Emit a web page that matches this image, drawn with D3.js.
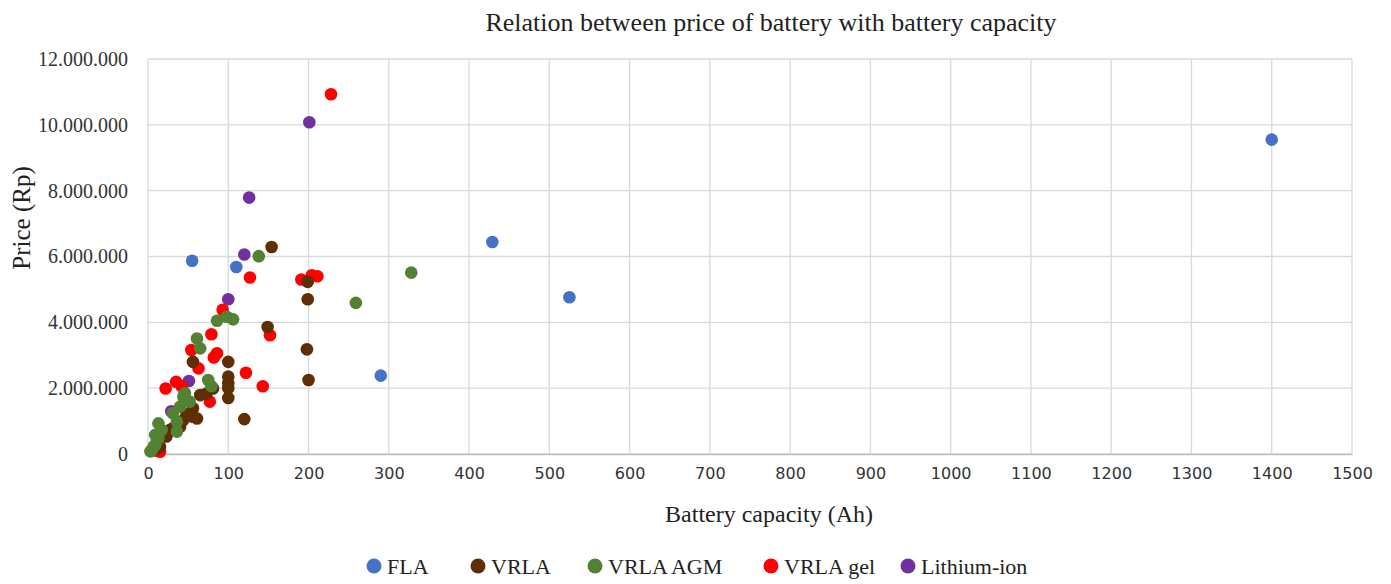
<!DOCTYPE html>
<html><head><meta charset="utf-8">
<script src="https://cdn.jsdelivr.net/npm/d3@7"></script>
<style>body{margin:0;background:#fff}svg{display:block}</style>
</head><body>
<svg id="c" width="1391" height="584"></svg>
<script>
const seriesNames = ["FLA","VRLA","VRLA AGM","VRLA gel","Lithium-ion"];
const seriesColors = ["#4472C4","#5E2E05","#548235","#FF0000","#7030A0"];
const xTicks = d3.range(0,1501,100);
const yTicks = [0,2000000,4000000,6000000,8000000,10000000,12000000];
const yTickLabels = ["0","2.000.000","4.000.000","6.000.000","8.000.000","10.000.000","12.000.000"];

const fla = [[55,5870000],[110,5680000],[290,2380000],[429,6440000],[525,4760000],[1400,9550000]];
const vrla = [[154,6290000],[199,5230000],[199,4700000],[149,3860000],[198,3180000],[100,2800000],[56,2800000],[200,2250000],[100,2350000],[100,2150000],[100,2000000],[100,1700000],[81,1990000],[65,1790000],[73,1840000],[120,1060000],[56,1390000],[56,1130000],[61,1080000],[44,1030000],[40,830000],[27,730000],[21,580000],[15,220000],[31,780000],[23,530000],[10,150000],[48,1200000]];
const vrlaAgm = [[138,6010000],[328,5510000],[259,4590000],[86,4050000],[98,4170000],[106,4090000],[61,3510000],[65,3210000],[75,2250000],[79,2060000],[44,1740000],[52,1590000],[46,1850000],[40,1440000],[31,1240000],[36,980000],[36,680000],[13,930000],[17,730000],[13,480000],[9,270000],[5,120000],[9,580000],[7,220000],[11,420000],[3,80000]];
const vrlaGel = [[228,10930000],[127,5360000],[191,5300000],[204,5430000],[211,5400000],[93,4380000],[152,3610000],[79,3640000],[54,3160000],[86,3060000],[82,2930000],[63,2600000],[122,2470000],[143,2060000],[22,1990000],[35,2190000],[42,2060000],[77,1590000],[15,70000],[10,100000]];
const lithium = [[201,10080000],[126,7790000],[120,6060000],[100,4700000],[51,2220000],[29,1300000]];

const allSeries = [fla, vrla, vrlaAgm, vrlaGel, lithium];
const drawOrder = [4,0,3,1,2];

const svg = d3.select("#c");
const M = {l:148, r:39, t:59, b:130};
const W = 1391, H = 584;
const x = d3.scaleLinear().domain([0,1500]).range([M.l, W-M.r]);
const y = d3.scaleLinear().domain([0,12000000]).range([H-M.b, M.t]);

// gridlines
svg.append("g").selectAll("line").data(xTicks).join("line")
  .attr("x1",d=>x(d)).attr("x2",d=>x(d)).attr("y1",y(0)).attr("y2",y(12000000))
  .attr("stroke","#d9d9d9").attr("stroke-width",1.3);
svg.append("g").selectAll("line").data(yTicks).join("line")
  .attr("x1",x(0)).attr("x2",x(1500)).attr("y1",d=>y(d)).attr("y2",d=>y(d))
  .attr("stroke","#d9d9d9").attr("stroke-width",1.3);

// axes
const xAxis = d3.axisBottom(x).tickValues(xTicks).tickSize(0).tickPadding(14).tickFormat(d3.format("d"));
const gx = svg.append("g").attr("transform",`translate(0,${y(0)})`).call(xAxis);
gx.select(".domain").attr("stroke","#bfbfbf").attr("stroke-width",1.3);
gx.selectAll("text").attr("font-family","DejaVu Sans").attr("font-size",16).attr("fill","#333");

const yAxis = d3.axisLeft(y).tickValues(yTicks).tickSize(0).tickPadding(20)
  .tickFormat((d,i)=>yTickLabels[i]);
const gy = svg.append("g").attr("transform",`translate(${x(0)},0)`).call(yAxis);
gy.select(".domain").remove();
gy.selectAll("text").attr("font-family","Liberation Serif").attr("font-size",20).attr("fill","#333");

// points
drawOrder.forEach(i=>{
  svg.append("g").selectAll("circle").data(allSeries[i]).join("circle")
    .attr("cx",d=>x(d[0])).attr("cy",d=>y(d[1])).attr("r",6.3)
    .attr("fill",seriesColors[i]);
});

// titles
svg.append("text").attr("x",771).attr("y",31).attr("text-anchor","middle")
  .attr("font-family","Liberation Serif").attr("font-size",26).attr("fill","#222")
  .text("Relation between price of battery with battery capacity");
svg.append("text").attr("x",769).attr("y",522).attr("text-anchor","middle")
  .attr("font-family","Liberation Serif").attr("font-size",24).attr("fill","#222")
  .text("Battery capacity (Ah)");
svg.append("text").attr("transform","translate(30,218) rotate(-90)").attr("text-anchor","middle")
  .attr("font-family","Liberation Serif").attr("font-size",25).attr("fill","#222")
  .text("Price (Rp)");

// legend
const legX = [374,478,595,771,908];
const lg = svg.append("g");
seriesNames.forEach((n,i)=>{
  lg.append("circle").attr("cx",legX[i]).attr("cy",566).attr("r",7.5).attr("fill",seriesColors[i]);
  lg.append("text").attr("x",legX[i]+13).attr("y",574).attr("font-family","Liberation Serif")
    .attr("font-size",22).attr("fill","#222").text(n);
});
</script>
</body></html>
